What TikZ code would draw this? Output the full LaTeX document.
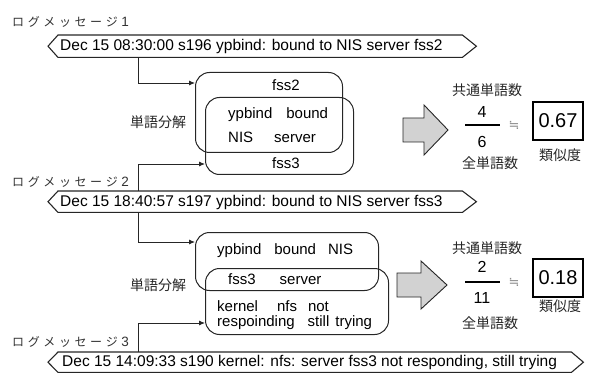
\documentclass[tikz,border=0pt]{standalone}
\usepackage{fontspec}
\setmainfont{Liberation Sans}
\newfontfamily\jp{Noto Sans CJK JP}
\newfontfamily\dejavu{DejaVu Sans}
\usetikzlibrary{arrows.meta,calc}
\newcommand\lsp{\hspace{3.6pt}}
\begin{document}
\begin{tikzpicture}[x=1pt,y=-1pt,
  msgbody/.style={draw=none,inner sep=0pt,anchor=north west},
  msgline/.style={line width=1.1pt,draw=black!85,line join=miter},
  msgtxt/.style={font=\fontsize{15.5}{18}\selectfont,anchor=west,inner sep=0pt},
  wbox/.style={draw=black!85,line width=1pt,rounded corners=14pt,inner sep=0pt,anchor=north west},
  word/.style={font=\fontsize{15}{18}\selectfont,anchor=west,inner sep=0pt},
  wordc/.style={font=\fontsize{15}{18}\selectfont,inner sep=0pt},
  jlab/.style={font=\jp\fontsize{12}{14}\selectfont,anchor=west,inner sep=0pt,text=black!80},
  jtxt/.style={font=\jp\fontsize{14}{16}\selectfont,inner sep=0pt,text=black!85},
  num/.style={font=\fontsize{16}{18}\selectfont,inner sep=0pt},
  approx/.style={font=\dejavu\fontsize{13}{15}\selectfont,inner sep=0pt,text=black!45},
  valbox/.style={draw,line width=1.2pt,minimum width=50pt,minimum height=38pt,inner sep=0pt,font=\fontsize{20}{22}\selectfont},
  conn/.style={line width=0.9pt,draw=black!85,-{Latex[length=6pt,width=5pt]}},
  bigarrow/.style={draw=black!85,line width=0.9pt,fill=gray!35,line join=miter},
  fracline/.style={line width=1.3pt}
]
\useasboundingbox (0,0) rectangle (591,374);

% labels
\node[jlab] (l1) at (12,22) {ロ\lsp グ\lsp メ\lsp ッ\lsp セ\lsp ー\lsp ジ\lsp{\rmfamily\fontsize{13.5}{15}\selectfont 1}};
\node[jlab] (l2) at (12,182) {ロ\lsp グ\lsp メ\lsp ッ\lsp セ\lsp ー\lsp ジ\lsp{\rmfamily\fontsize{13.5}{15}\selectfont 2}};
\node[jlab] (l3) at (12,342) {ロ\lsp グ\lsp メ\lsp ッ\lsp セ\lsp ー\lsp ジ\lsp{\rmfamily\fontsize{13.5}{15}\selectfont 3}};

% message boxes
\node[msgbody,minimum width=404pt,minimum height=22pt] (m1) at (58,35) {};
\draw[msgline] (m1.north west) -- (m1.north east) -- ([xshift=14pt]m1.east) -- (m1.south east) -- (m1.south west) -- ([xshift=-10pt]m1.west) -- cycle;
\node[msgtxt] (m1t) at (60,46.5) {Dec 15 08:30:00 s196 ypbind: bound to NIS server fss2};

\node[msgbody,minimum width=404pt,minimum height=21pt] (m2) at (58,191) {};
\draw[msgline] (m2.north west) -- (m2.north east) -- ([xshift=14pt]m2.east) -- (m2.south east) -- (m2.south west) -- ([xshift=-10pt]m2.west) -- cycle;
\node[msgtxt] (m2t) at (60,202) {Dec 15 18:40:57 s197 ypbind: bound to NIS server fss3};

\node[msgbody,minimum width=513pt,minimum height=20pt] (m3) at (58,352) {};
\draw[msgline] (m3.north west) -- (m3.north east) -- ([xshift=12pt]m3.east) -- (m3.south east) -- (m3.south west) -- ([xshift=-10pt]m3.west) -- cycle;
\node[msgtxt] (m3t) at (62,362.5) {Dec 15 14:09:33 s190 kernel: nfs: server fss3 not responding, still trying};

% word boxes group 1
\node[wbox,minimum width=147pt,minimum height=80pt] (A) at (195,72) {};
\node[wbox,minimum width=148pt,minimum height=77pt] (B) at (205,97) {};
\node[wordc] (w1) at (286,85) {fss2};
\node[word] (w2) at (228,115) {ypbind\hspace*{14pt}bound};
\node[word] (w3) at (228,137) {NIS\hspace*{21pt}server};
\node[wordc] (w4) at (286,163) {fss3};
\node[jtxt] (s1) at (158,122) {単語分解};

% word boxes group 2
\node[wbox,minimum width=183pt,minimum height=58pt] (C) at (195,232) {};
\node[wbox,minimum width=183pt,minimum height=66pt] (D) at (205,268) {};
\node[word] (w5) at (217,251) {ypbind\hspace*{13pt}bound\hspace*{12pt}NIS};
\node[word] (w6) at (228,279) {fss3\hspace*{24pt}server};
\node[word] (w7) at (217,306) {kernel\hspace*{19pt}nfs\hspace*{11pt}not};
\node[word] (w8) at (217,323) {respoinding\hspace*{13pt}still\hspace*{6pt}trying};
\node[jtxt] (s2) at (158,285) {単語分解};

% connectors
\coordinate (xc) at (138,0);
\draw[conn] (m1.south -| xc) |- ([yshift=-11pt]A.north west);
\draw[conn] (m2.north -| xc) |- ([yshift=11pt]B.south west);
\draw[conn] (m2.south -| xc) |- ([yshift=-10pt]C.north west);
\draw[conn] (m3.north -| xc) |- ([yshift=12pt]D.south west);

% big arrows
\draw[bigarrow] (403,118) -- (424,118) -- (424,105) -- (448,130) -- (424,155) -- (424,142) -- (403,142) -- cycle;
\draw[bigarrow] (397,273) -- (421,273) -- (421,261) -- (447,285) -- (421,309) -- (421,297) -- (397,297) -- cycle;

% fraction group 1
\node[jtxt] (c1) at (487,90) {共通単語数};
\node[num] (n1) at (482,112) {4};
\draw[fracline] (465,125) -- (500,125);
\node[num] (d1) at (482,142) {6};
\node[jtxt] (t1) at (490,163) {全単語数};
\node[approx] (ap1) at (514,125) {≒};
\node[valbox] (v1) at (558,121) {0.67};
\node[jtxt] (r1) at (560,155) {類似度};

% fraction group 2
\node[jtxt] (c2) at (487,248) {共通単語数};
\node[num] (n2) at (482,267) {2};
\draw[fracline] (465,282) -- (500,282);
\node[num] (d2) at (482,298) {11};
\node[jtxt] (t2) at (490,323) {全単語数};
\node[approx] (ap2) at (514,282) {≒};
\node[valbox] (v2) at (558,278) {0.18};
\node[jtxt] (r2) at (560,306) {類似度};
\end{tikzpicture}
\end{document}
